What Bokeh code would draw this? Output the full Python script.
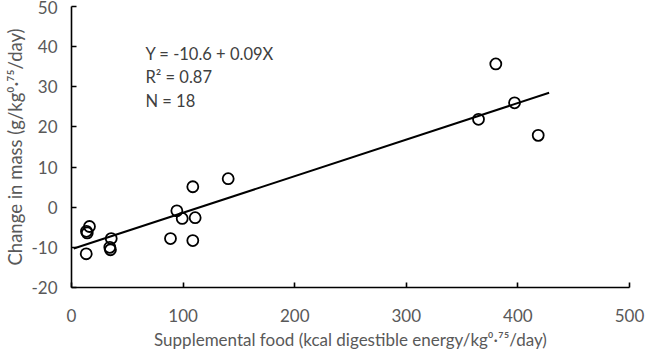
from bokeh.plotting import figure
from bokeh.models import Range1d, FixedTicker, Label, ColumnDataSource
from bokeh.embed import file_html
from bokeh.resources import INLINE

# ---- data ----
supp_food = [16.1, 14.1, 13.4, 13.2, 35.6, 34.3, 34.9, 88.7, 94.4, 99.2,
             110.8, 108.7, 108.7, 140.4, 364.7, 380.2, 397.0, 418.2]
mass_change = [-4.8, -6.4, -6.0, -11.6, -7.8, -10.0, -10.6, -7.8, -0.9, -2.8,
               -2.6, 5.1, -8.3, 7.1, 21.9, 35.7, 26.0, 17.9]
fit_x = [2, 428]
fit_y = [-10.3, 28.5]
x_ticks = [0, 100, 200, 300, 400, 500]
y_ticks = [-20, -10, 0, 10, 20, 30, 40, 50]
y_tick_labels = ["-20", "-10", "0", "10", "20", "30", "40", "50"]
stats_lines = ["Y = -10.6 + 0.09X", "R\u00b2 = 0.87", "N = 18"]
x_title = "Supplemental food (kcal digestible energy/kg\u2070\u00b7\u2077\u2075/day)"
y_title = "Change in mass (g/kg\u2070\u00b7\u2077\u2075/day)"

FONT = "Lato"
GRAY = "#595959"

p = figure(width=645, height=354, output_backend="svg", toolbar_location=None,
           x_range=Range1d(0, 500), y_range=Range1d(-20, 50),
           min_border_left=71, min_border_right=16, min_border_top=6,
           min_border_bottom=67)
p.outline_line_color = None
p.xgrid.visible = False
p.ygrid.visible = False
p.background_fill_color = "white"
p.border_fill_color = "white"

for ax, ticks in ((p.xaxis, x_ticks), (p.yaxis, y_ticks)):
    ax.ticker = FixedTicker(ticks=ticks)
    ax.major_tick_in = 5
    ax.major_tick_out = 0
    ax.minor_tick_line_color = None
    ax.axis_line_width = 1.6
    ax.major_tick_line_width = 1.6
    ax.axis_line_color = "black"
    ax.major_tick_line_color = "black"
    ax.major_label_text_font = FONT
    ax.major_label_text_font_size = "17px"
    ax.major_label_text_color = GRAY
    ax.axis_label_text_font = FONT
    ax.axis_label_text_font_style = "normal"
    ax.axis_label_text_color = GRAY
p.yaxis.major_label_overrides = {t: s for t, s in zip(y_ticks, y_tick_labels)}
p.xaxis.major_label_standoff = 21
p.yaxis.major_label_standoff = 14
p.xaxis.axis_label = x_title
p.yaxis.axis_label = y_title
p.xaxis.axis_label_text_font_size = "17px"
p.yaxis.axis_label_text_font_size = "18.5px"
p.xaxis.axis_label_standoff = 4
p.yaxis.axis_label_standoff = 2

src = ColumnDataSource(data=dict(x=supp_food, y=mass_change))
p.line(fit_x, fit_y, line_color="black", line_width=2)
p.scatter("x", "y", source=src, marker="circle", size=11,
          fill_color=None, line_color="black", line_width=1.8)

# regression statistics
for i, t in enumerate(stats_lines):
    p.add_layout(Label(x=74, y=234 - 23.5 * i, x_units="screen", y_units="screen",
                       text=t, text_align="left", text_baseline="middle",
                       text_font=FONT, text_font_size="16.5px", text_color="#404040"))

open("out.html", "w").write(file_html(p, INLINE))
